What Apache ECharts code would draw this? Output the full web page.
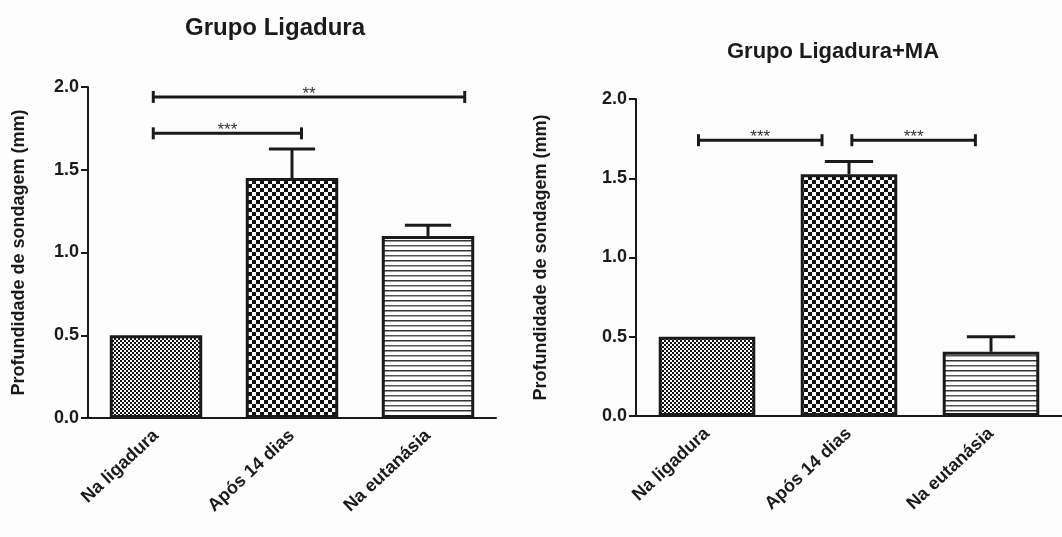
<!DOCTYPE html>
<html>
<head>
<meta charset="utf-8">
<script src="https://cdn.jsdelivr.net/npm/echarts@6/dist/echarts.min.js"></script>
<style>
html,body{margin:0;padding:0;background:#fdfdfd;}
#chart{width:1062px;height:537px;}
</style>
</head>
<body>
<div id="chart"></div>
<script>
// ---- data ----
const categories = ['Na ligadura', 'Após 14 dias', 'Na eutanásia'];
const yTicks = [0.0, 0.5, 1.0, 1.5, 2.0];

const titleLig = 'Grupo Ligadura';
const meanLig = [0.50, 1.45, 1.10];
const semLig = [0, 0.175, 0.065];
// significance brackets: [from (category index), to (category index), height, label]
const bracketsLig = [[-0.02, 1.07, 1.72, '***'], [-0.02, 2.27, 1.94, '**']];

const titleMA = 'Grupo Ligadura+MA';
const meanMA = [0.50, 1.525, 0.405];
const semMA = [0, 0.08, 0.095];
const bracketsMA = [[-0.06, 0.81, 1.74, '***'], [1.02, 1.89, 1.74, '***']];

const yName = 'Profundidade de sondagem (mm)';

// ---- patterns ----
function checker(n) {
  const c = document.createElement('canvas');
  c.width = c.height = 2 * n;
  const g = c.getContext('2d');
  g.fillStyle = '#ffffff'; g.fillRect(0, 0, 2 * n, 2 * n);
  g.fillStyle = '#111111'; g.fillRect(0, 0, n, n); g.fillRect(n, n, n, n);
  return {image: c, repeat: 'repeat'};
}
function stripes() {
  const c = document.createElement('canvas');
  c.width = 8; c.height = 10;
  const g = c.getContext('2d');
  g.fillStyle = '#ffffff'; g.fillRect(0, 0, 8, 10);
  g.fillStyle = '#333333'; g.fillRect(0, 0, 8, 1.5);
  g.fillStyle = '#555555'; g.fillRect(0, 5, 8, 1.5);
  return {image: c, repeat: 'repeat'};
}
const patterns = [checker(2), checker(4), stripes()];

const FONT = '"Liberation Sans", Arial, Helvetica, sans-serif';
const INK = '#1a1a1a';

function barData(means) {
  return means.map((v, i) => ({value: v, itemStyle: {color: patterns[i]}}));
}
function errData(means, sems) {
  return means.map((v, i) => [i, v, v + sems[i]]);
}
function errRender(params, api) {
  const i = api.value(0);
  const p0 = api.coord([i, api.value(1)]);
  const p1 = api.coord([i, api.value(2)]);
  if (Math.abs(p0[1] - p1[1]) < 1) return {type: 'group', children: []};
  const half = api.size([1, 0])[0] * 0.17;
  const st = {stroke: INK, lineWidth: 3};
  return {type: 'group', children: [
    {type: 'line', shape: {x1: p0[0], y1: p0[1], x2: p1[0], y2: p1[1]}, style: st},
    {type: 'line', shape: {x1: p1[0] - half, y1: p1[1], x2: p1[0] + half, y2: p1[1]}, style: st}
  ]};
}
function makeBracketRender(brackets) {
  const labels = brackets.map(b => b[3]);
  return function (params, api) {
    const a = api.coord([api.value(0), api.value(2)]);
    const b = api.coord([api.value(1), api.value(2)]);
    const st = {stroke: INK, lineWidth: 3};
    return {type: 'group', children: [
      {type: 'line', shape: {x1: a[0], y1: a[1], x2: b[0], y2: b[1]}, style: st},
      {type: 'line', shape: {x1: a[0], y1: a[1] - 6, x2: a[0], y2: a[1] + 6}, style: st},
      {type: 'line', shape: {x1: b[0], y1: b[1] - 6, x2: b[0], y2: b[1] + 6}, style: st},
      {type: 'text', style: {x: (a[0] + b[0]) / 2, y: a[1] - 3, text: labels[params.dataIndex], fill: '#333',
        font: '17px ' + FONT, textAlign: 'center', textVerticalAlign: 'middle'}}
    ]};
  };
}

const grids = [
  {left: 88, top: 87, width: 408, height: 331},
  {left: 636, top: 99, width: 426, height: 317}
];

function catAxis(gi) {
  return {
    type: 'category', gridIndex: gi, data: categories,
    axisLine: {lineStyle: {color: INK, width: 2}},
    axisTick: {alignWithLabel: true, length: 7, lineStyle: {color: INK, width: 2}},
    axisLabel: {rotate: 43, margin: 15, color: INK, fontSize: 18, fontWeight: 'bold', fontFamily: FONT, interval: 0}
  };
}
function hiddenX(gi) {
  return {type: 'value', gridIndex: gi, min: -0.5, max: 2.5, show: false};
}
function valAxis(gi, gap) {
  return {
    type: 'value', gridIndex: gi, min: yTicks[0], max: yTicks[yTicks.length - 1], interval: 0.5,
    name: yName, nameLocation: 'middle', nameGap: gap,
    nameTextStyle: {color: INK, fontSize: 18, fontWeight: 'bold', fontFamily: FONT},
    axisLine: {show: true, onZero: false, lineStyle: {color: INK, width: 2}},
    axisTick: {show: true, length: 7, lineStyle: {color: INK, width: 2}},
    axisLabel: {margin: 9, color: INK, fontSize: 18, fontWeight: 'bold', fontFamily: FONT,
      formatter: v => v.toFixed(1)},
    splitLine: {show: false}
  };
}

const option = {
  backgroundColor: '#fdfdfd',
  animation: false,
  grid: grids,
  xAxis: [catAxis(0), catAxis(1), hiddenX(0), hiddenX(1)],
  yAxis: [valAxis(0, 60), valAxis(1, 86)],
  graphic: [
    {type: 'text', x: 275, y: 28, style: {text: titleLig, fill: INK, font: 'bold 24px ' + FONT, textAlign: 'center', textVerticalAlign: 'middle'}},
    {type: 'text', x: 833, y: 52, style: {text: titleMA, fill: INK, font: 'bold 22px ' + FONT, textAlign: 'center', textVerticalAlign: 'middle'}}
  ],
  series: [
    {type: 'bar', xAxisIndex: 0, yAxisIndex: 0, barWidth: '68%', data: barData(meanLig),
      itemStyle: {borderColor: INK, borderWidth: 3}, z: 2},
    {type: 'custom', xAxisIndex: 0, yAxisIndex: 0, data: errData(meanLig, semLig), renderItem: errRender, z: 3},
    {type: 'custom', xAxisIndex: 2, yAxisIndex: 0, data: bracketsLig.map(b => [b[0], b[1], b[2]]),
      renderItem: makeBracketRender(bracketsLig), z: 4},
    {type: 'bar', xAxisIndex: 1, yAxisIndex: 1, barWidth: '68%', data: barData(meanMA),
      itemStyle: {borderColor: INK, borderWidth: 3}, z: 2},
    {type: 'custom', xAxisIndex: 1, yAxisIndex: 1, data: errData(meanMA, semMA), renderItem: errRender, z: 3},
    {type: 'custom', xAxisIndex: 3, yAxisIndex: 1, data: bracketsMA.map(b => [b[0], b[1], b[2]]),
      renderItem: makeBracketRender(bracketsMA), z: 4}
  ]
};

const chart = echarts.init(document.getElementById('chart'), null, {renderer: 'canvas'});
chart.setOption(option);
</script>
</body>
</html>
